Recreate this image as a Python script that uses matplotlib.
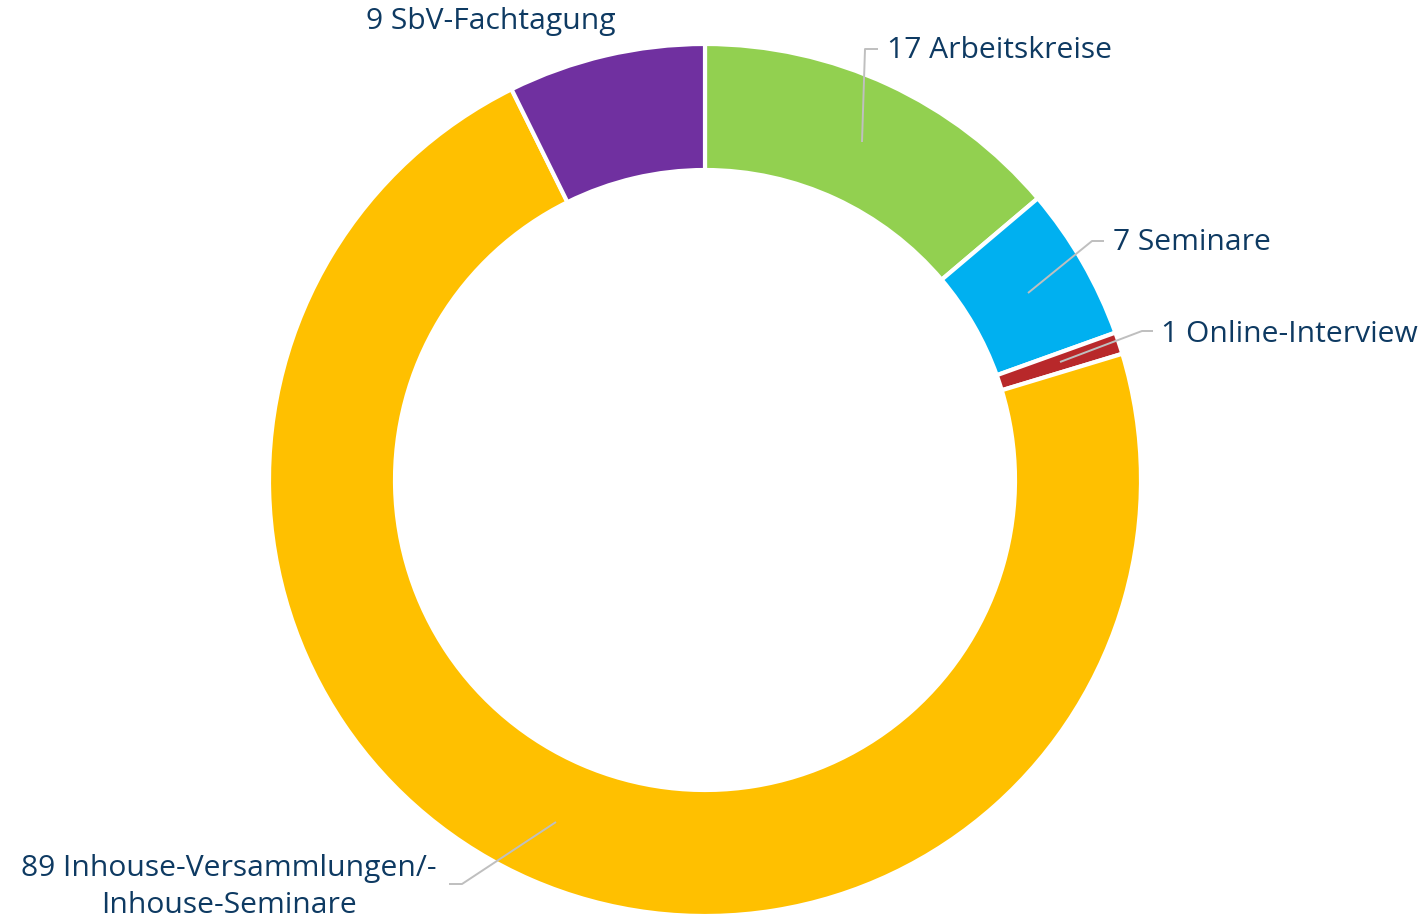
import matplotlib.pyplot as plt

# data
categories = ['Arbeitskreise', 'Seminare', 'Online-Interview',
              'Inhouse-Versammlungen/-\nInhouse-Seminare', 'SbV-Fachtagung']
values = [17, 7, 1, 89, 9]
colors = ['#92D050', '#00B0F0', '#B8282A', '#FFC000', '#7030A0']

W, H = 1427, 924
fig = plt.figure(figsize=(W / 100, H / 100), dpi=100)
ax = fig.add_axes([0, 0, 1, 1])

cx, cy, r = 705, H - 480, 436
ax.pie(values, colors=colors, radius=r, center=(cx, cy), startangle=90,
       counterclock=False, frame=False,
       wedgeprops=dict(width=126, edgecolor='white', linewidth=3))
ax.set_xlim(0, W)
ax.set_ylim(0, H)
ax.set_aspect('equal')
ax.axis('off')

txt_color = '#0E3A62'
line_color = '#BFBFBF'

# label placement (pixel coords, origin top-left) and leader lines
label_pos = [(887, 50, 'left'), (1113, 243, 'left'), (1161, 334, 'left'),
             (229, 887, 'center'), (491, 22, 'center')]
leaders = [[(862, 142), (865, 49), (878, 49)],
           [(1028, 293), (1092, 241), (1104, 241)],
           [(1060, 362), (1142, 331), (1153, 331)],
           [(556, 822), (462, 884), (449, 884)],
           None]

for cat, val, (tx, ty, ha), ld in zip(categories, values, label_pos, leaders):
    ax.text(tx, H - ty, f'{val} {cat}', ha=ha, va='center', fontsize=21.6,
            family='Open Sans', color=txt_color, linespacing=1.36)
    if ld:
        ax.plot([p[0] for p in ld], [H - p[1] for p in ld], color=line_color,
                lw=1.4, solid_capstyle='butt')

fig.savefig('out.png', dpi=100)
